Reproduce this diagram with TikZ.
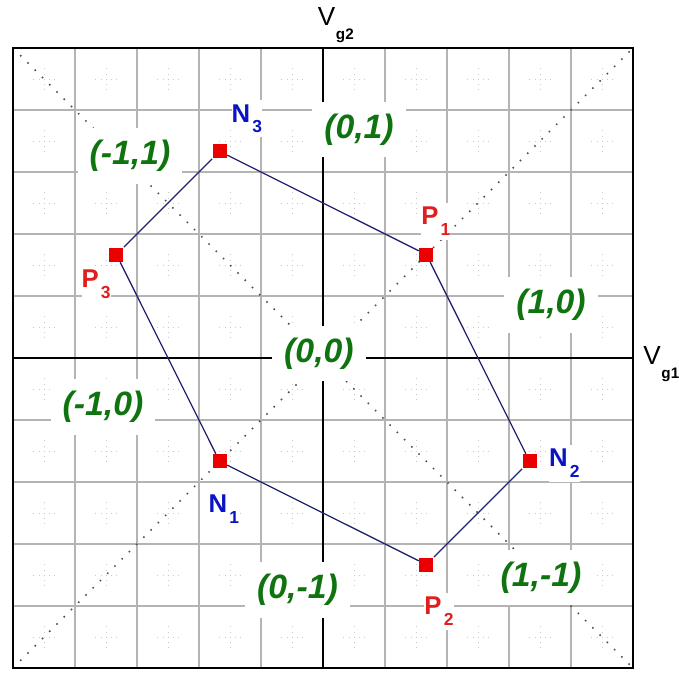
\documentclass[tikz,border=0pt]{standalone}
\usepackage{fontspec}
\setmainfont{Liberation Sans}
\definecolor{lblgreen}{RGB}{15,115,15}
\definecolor{nblue}{RGB}{10,20,195}
\definecolor{pred}{RGB}{225,30,30}
\definecolor{sqred}{RGB}{235,0,0}
\definecolor{edgeblue}{RGB}{35,35,115}
\definecolor{gridgray}{RGB}{180,180,180}
\definecolor{crossgray}{RGB}{200,200,200}
\definecolor{diaggray}{RGB}{80,80,80}
\newcommand{\subnum}[1]{\kern1pt\raisebox{-5pt}{\fontsize{8}{9}\selectfont\bfseries #1}}
\newcommand{\axsub}[1]{\kern0.3pt\raisebox{-6.2pt}{\fontsize{7}{8}\selectfont\bfseries #1}}
\begin{document}
\begin{tikzpicture}[x=1cm,y=1cm,
  region/.style={fill=white, inner sep=5.5pt, text=lblgreen,
    font=\fontsize{15.5}{18}\selectfont\bfseries\itshape},
  vertex/.style={fill=sqred, minimum size=0.23cm, inner sep=0pt},
  nlab/.style={text=nblue, font=\fontsize{11.8}{14}\selectfont\bfseries,
    anchor=base west, inner xsep=0pt, inner ysep=2pt, fill=white},
  plab/.style={nlab, text=pred},
  axlab/.style={font=\fontsize{12}{14}\selectfont, anchor=base west, inner sep=0pt},
  edge/.style={edgeblue, line width=0.6pt},
  diag/.style={diaggray, line width=0.7pt, dash pattern=on 0.7pt off 4pt},
  cross/.style={crossgray, line width=0.4pt, dotted}]
\useasboundingbox[fill=white] (-5.2097,-5.0806) rectangle (5.7419,5.7742);
% grid
\draw[gridgray, line width=0.5pt] (-5,-5) grid (5,5);
% faint crosses at cell centres
\foreach \i in {-4.5,-3.5,...,4.5}{
  \foreach \j in {-4.5,-3.5,...,4.5}{
    \draw[cross] (\i-0.17,\j) -- (\i+0.17,\j) (\i,\j-0.18) -- (\i,\j+0.18);
  }
}
% diagonals
\coordinate (tl) at (-5,5);
\coordinate (br) at (5,-5);
\coordinate (bl) at (-5,-5);
\coordinate (tr) at (5,5);
\draw[diag] (tl) -- (br);
\draw[diag] (bl) -- (tr);
% axes
\coordinate (xl) at (-5,0);
\coordinate (xr) at (5,0);
\coordinate (yb) at (0,-5);
\coordinate (yt) at (0,5);
\draw[black, line width=0.9pt] (xl) -- (xr);
\draw[black, line width=0.9pt] (yb) -- (yt);
\draw[black, line width=1.2pt] (bl) rectangle (tr);
% region labels
\node[region] (r1) at (-3.113,3.258) {(-1,1)};
\node[region] (r2) at (0.581,3.685) {(0,1)};
\node[region] (r3) at (3.677,0.855) {(1,0)};
\node[region] (r4) at (-0.065,0.073) {(0,0)};
\node[region] (r5) at (-3.548,-0.790) {(-1,0)};
\node[region] (r6) at (-0.411,-3.742) {(0,-1)};
\node[region] (r7) at (3.516,-3.540) {(1,-1)};
% hexagon vertices
\node[vertex] (N3) at (-1.667,3.333) {};
\node[vertex] (P1) at (1.667,1.667) {};
\node[vertex] (N2) at (3.333,-1.667) {};
\node[vertex] (P2) at (1.667,-3.333) {};
\node[vertex] (N1) at (-1.667,-1.667) {};
\node[vertex] (P3) at (-3.333,1.667) {};
\draw[edge] (N3) -- (P1) -- (N2) -- (P2) -- (N1) -- (P3) -- (N3);
\node[vertex] at (N3) {};
\node[vertex] at (P1) {};
\node[vertex] at (N2) {};
\node[vertex] at (P2) {};
\node[vertex] at (N1) {};
\node[vertex] at (P3) {};
% vertex labels
\node[nlab] (lN3) at (-1.480,3.806) {N\subnum{3}};
\node[plab] (lP1) at (1.580,2.145) {P\subnum{1}};
\node[plab] (lP3) at (-3.900,1.129) {P\subnum{3}};
\node[nlab] (lN1) at (-1.850,-2.500) {N\subnum{1}};
\node[nlab] (lN2) at (3.640,-1.758) {N\subnum{2}};
\node[plab] (lP2) at (1.630,-4.145) {P\subnum{2}};
% axis labels
\node[axlab] (vg2) at (-0.090,5.355) {V\axsub{g2}};
\node[axlab] (vg1) at (5.160,-0.113) {V\axsub{g1}};
\end{tikzpicture}
\end{document}
